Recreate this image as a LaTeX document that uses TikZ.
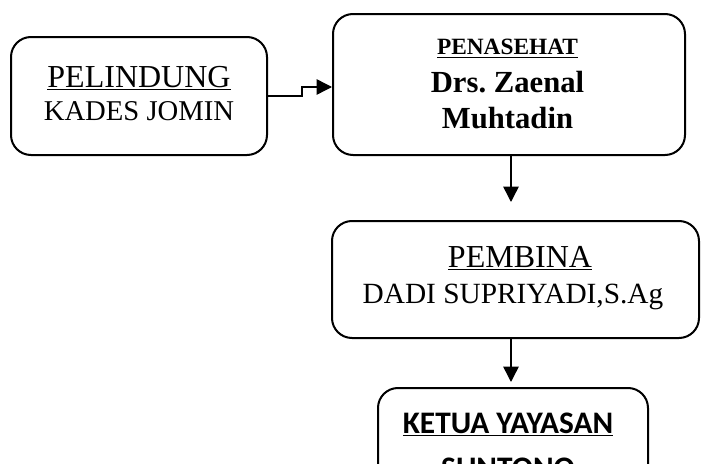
\documentclass[tikz,border=0pt]{standalone}
\usepackage{fontspec}
\setmainfont{Liberation Serif}
\newfontfamily\calib{Carlito}
\usetikzlibrary{arrows.meta,calc}
\frenchspacing
\tikzset{
  orgbox/.style={draw=black, line width=1.5pt, rounded corners=15pt, inner sep=0pt},
  conn/.style={draw=black, line width=1.1pt, -{Triangle[length=11.5pt,width=11.5pt]}},
  lbl/.style={anchor=base, inner sep=0pt, text=black}
}
\begin{document}
\begin{tikzpicture}[x=0.75pt,y=-0.75pt]
\useasboundingbox (0,0) rectangle (701,464);
\clip (0,0) rectangle (701,464);
\fill[white] (0,0) rectangle (701,464);
% boxes
\node[orgbox, minimum width=192pt, minimum height=88.5pt] (b1) at (139,96) {};
\node[orgbox, minimum width=264pt, minimum height=105.75pt] (b2) at (509,84.5) {};
\node[orgbox, minimum width=275.25pt, minimum height=87.75pt] (b3) at (515.5,279.5) {};
\node[orgbox, minimum width=202.5pt, minimum height=90pt] (b4) at (513,448) {};
% texts
\node[lbl, font=\fontsize{24}{28}\selectfont] (t1a) at (139,87) {\underline{PELINDUNG}};
\node[lbl, font=\fontsize{21.5}{26}\selectfont] (t1b) at (139,120) {KADES JOMIN};
\node[lbl, font=\fontsize{17.5}{20}\selectfont\bfseries] (t2a) at (507.5,55) {\underline{PENASEHAT}};
\node[lbl, font=\fontsize{23}{27}\selectfont\bfseries] (t2b) at (507.5,92) {Drs. Zaenal};
\node[lbl, font=\fontsize{23}{27}\selectfont\bfseries] (t2c) at (507.5,128) {Muhtadin};
\node[lbl, font=\fontsize{24}{28}\selectfont] (t3a) at (520,267) {\underline{PEMBINA}};
\node[lbl, font=\fontsize{22}{26}\selectfont] (t3b) at (513,303) {DADI SUPRIYADI,S.Ag};
\node[lbl, font=\calib\fontsize{23.5}{27}\selectfont\bfseries] (t4a) at (508,433) {\underline{KETUA YAYASAN}};
\node[lbl, font=\calib\fontsize{23.5}{27}\selectfont\bfseries] (t4b) at (508,478) {SUNTONO};
% connectors
\coordinate (s1) at (302,87);
\coordinate (a1) at (511,202);
\coordinate (a2) at (511,382);
\draw[conn] (b1.east) -| (s1) -- (b2.west |- s1);
\draw[conn] (b2.south -| a1) -- (a1);
\draw[conn] (b3.south -| a2) -- (a2);
\end{tikzpicture}
\end{document}
